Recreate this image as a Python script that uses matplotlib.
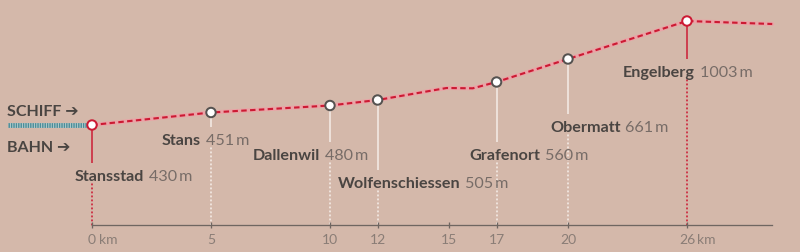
import numpy as np
import matplotlib
matplotlib.use("Agg")
import matplotlib.pyplot as plt

# ---------------- data ----------------
stations = ["Stansstad", "Stans", "Dallenwil", "Wolfenschiessen",
            "Grafenort", "Obermatt", "Engelberg"]
station_km = [0, 5, 10, 12, 17, 20, 26]
station_elev_m = [430, 451, 480, 505, 560, 661, 1003]
end_stations = ["Stansstad", "Engelberg"]

# schematic height of the drawn route line (relative units)
profile_km = [0, 5, 10, 12, 14.9, 16.0, 17, 20, 26, 30.3]
profile_height = [100, 112.5, 119.5, 125, 137, 136.7, 143, 166, 204, 201]

tick_km = [0, 5, 10, 12, 15, 17, 20, 26]
tick_labels = ["0", "5", "10", "12", "15", "17", "20", "26"]
unit_label = "km"
mode_labels = ["SCHIFF \u2794", "BAHN \u2794"]

# ---------------- layout / style ----------------
BG = "#d4b8aa"
RED = "#cc1a33"
PINK = "#eaa3a6"
GREY_EDGE = "#555250"
WHITE_LINE = "#f6eee9"
NAME_C = "#4a4542"
ELEV_C = "#776c67"
AXIS_C = "#6f6661"
TICK_C = "#8a7d76"
TEAL = "#4a8c98"
TEAL_LIGHT = "#b9cfcf"
FAM = ["Lato", "DejaVu Sans"]

label_height = [45.3, 81, 66, 37.7, 66.5, 94.3, 149]   # baseline height of labels
label_dx = [-17, -49, -77, -40, -27, -18, -64]          # px offset of label left edge

def fwd(x):
    x = np.asarray(x, dtype=float)
    return np.where(x <= 20, x, 20 + (x - 20) * 5 / 6)

def inv(y):
    y = np.asarray(y, dtype=float)
    return np.where(y <= 20, y, 20 + (y - 20) * 6 / 5)

fig = plt.figure(figsize=(8, 2.53), dpi=100, facecolor=BG)
ax = fig.add_axes([0, 0, 1, 1], facecolor=BG)
ax.set_xscale("function", functions=(fwd, inv))
ax.set_xlim(-3.866, 31.7)
ax.set_ylim(-27, 226)

px = 72 / 100  # points per pixel

# route line: pink halo + red dashes
ax.plot(profile_km, profile_height, color=PINK, lw=4 * px, solid_capstyle="round", zorder=2)
ax.plot(profile_km, profile_height, color=RED, lw=2.1 * px,
        linestyle=(0, (2.6, 1.6)), zorder=3)

station_h = np.interp(station_km, profile_km, profile_height)

# ship / rail connection bar
ax.plot([-3.53, -0.13], [station_h[0]] * 2, color=TEAL_LIGHT, lw=4.8 * px,
        solid_capstyle="butt", zorder=2)
ax.plot([-3.53, -0.13], [station_h[0]] * 2, color=TEAL, lw=4.8 * px,
        linestyle=(0, (0.3, 0.2)), dash_capstyle="butt", zorder=2.5)

for name, km, h, elev, lh, dx in zip(stations, station_km, station_h,
                                      station_elev_m, label_height, label_dx):
    is_end = name in end_stations
    c_solid = RED if is_end else WHITE_LINE
    ax.plot([km, km], [h, lh + 17], color=c_solid, lw=1.5 * px,
            solid_capstyle="butt", zorder=1.5)
    ax.plot([km, km], [lh - 4, 0], color=c_solid, lw=1.6 * px,
            linestyle=(0, (0.5, 2.0)), dash_capstyle="round", zorder=1.5)
    t = ax.annotate(name, xy=(km, lh), xytext=(dx, 0), textcoords="offset pixels",
                    ha="left", va="baseline", fontsize=11.6, fontweight="bold",
                    color=NAME_C, family=FAM, zorder=5)
    ax.annotate(f"{elev}\u2009m", xy=(1, 0), xycoords=t, xytext=(5, 0),
                textcoords="offset pixels", ha="left", va="bottom",
                fontsize=11.6, color=ELEV_C, family=FAM, zorder=5)

edge_colors = [RED if n in end_stations else GREY_EDGE for n in stations]
ax.scatter(station_km, station_h, s=46, facecolor="white",
           edgecolors=edge_colors, linewidths=2.0 * px, zorder=6)

# mode labels left of Stansstad
for lab, dy in zip(mode_labels, [9.5, -26.5]):
    ax.annotate(lab, xy=(0, station_h[0]), xytext=(-85, dy),
                textcoords="offset pixels", ha="left", va="baseline", fontsize=11.5,
                fontweight="bold", color=NAME_C, family=FAM)

# km axis
for s in ["top", "left", "right"]:
    ax.spines[s].set_visible(False)
ax.spines["bottom"].set_position(("data", 0))
ax.spines["bottom"].set_bounds(0, 30.3)
ax.spines["bottom"].set_color(AXIS_C)
ax.spines["bottom"].set_linewidth(1.3 * px)
ax.set_xticks(tick_km)
ax.set_xticklabels(tick_labels, fontfamily=FAM, fontsize=10, color=TICK_C)
ax.tick_params(axis="x", direction="inout", length=6 * px, width=1.3 * px,
               color=AXIS_C, pad=3.5)
ax.set_yticks([])
ax.minorticks_off()
for km, off in [(tick_km[0], 7), (tick_km[-1], 10)]:
    ax.annotate(unit_label, xy=(km, 0), xytext=(off, -7.9), textcoords="offset pixels",
                ha="left", va="top", fontsize=10, color=TICK_C, family=FAM)

fig.savefig("out.png", dpi=100, facecolor=BG)
